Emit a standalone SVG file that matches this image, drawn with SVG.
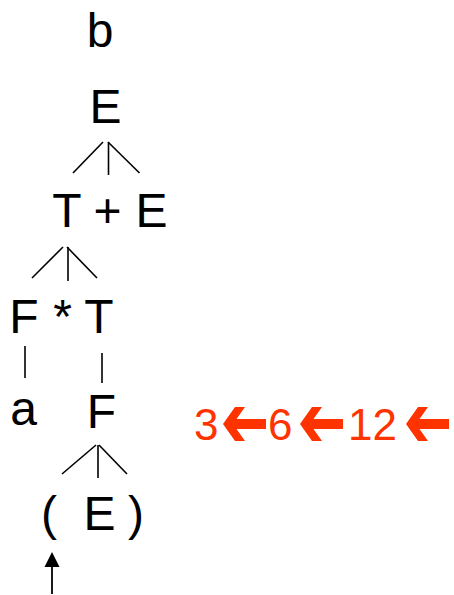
<svg xmlns="http://www.w3.org/2000/svg" width="454" height="595" viewBox="0 0 454 595">
<style>
  text { font-family: "Liberation Sans", Arial, sans-serif; font-size: 48px; fill: #000; text-anchor: middle; }
  .red { fill: #FF3300; font-size: 44px; text-anchor: start; }
  .edge { stroke: #000; stroke-width: 1.6; fill: none; }
  .rarrow { fill: #FF3300; }
</style>
<defs>
  <polygon id="redArrow" points="0,17 12,0 22,0 13.5,12 43,12 43,22 13.5,22 22,34 12,34"/>
</defs>
<rect width="454" height="595" fill="#fff"/>

<g id="connectors">
  <line class="edge" x1="103" y1="142" x2="73" y2="173"/>
  <line class="edge" x1="108.5" y1="142" x2="108.5" y2="175"/>
  <line class="edge" x1="108" y1="142" x2="139.5" y2="173"/>

  <line class="edge" x1="63" y1="247" x2="32" y2="278"/>
  <line class="edge" x1="68" y1="247" x2="68" y2="281"/>
  <line class="edge" x1="67" y1="247" x2="97" y2="278"/>

  <line class="edge" x1="25" y1="346" x2="25" y2="378"/>
  <line class="edge" x1="102" y1="353" x2="102" y2="383"/>

  <line class="edge" x1="96" y1="445" x2="62" y2="474"/>
  <line class="edge" x1="98" y1="445" x2="98" y2="478"/>
  <line class="edge" x1="99" y1="445" x2="127" y2="474"/>

  <line x1="52" y1="594" x2="52" y2="567" stroke="#000" stroke-width="1.8"/>
  <polygon points="52,552 59.5,567 44.5,567" fill="#000"/>
</g>

<g id="node-b"><text x="100" y="47">b</text></g>
<g id="node-E1"><text x="105.5" y="122.5">E</text></g>
<g id="node-T1"><text x="67" y="227">T</text></g>
<g id="node-plus"><text x="107.5" y="227">+</text></g>
<g id="node-E2"><text x="151.5" y="227">E</text></g>
<g id="node-F1"><text x="24" y="333">F</text></g>
<g id="node-star"><text x="62.5" y="333">*</text></g>
<g id="node-T2"><text x="99" y="333">T</text></g>
<g id="node-a"><text x="23.5" y="425">a</text></g>
<g id="node-F2"><text x="101.5" y="428">F</text></g>
<g id="node-lparen"><text x="49" y="530">(</text></g>
<g id="node-E3"><text x="99.5" y="530">E</text></g>
<g id="node-rparen"><text x="136" y="530">)</text></g>

<g id="counts">
  <text class="red" x="194" y="440">3</text>
  <use href="#redArrow" class="rarrow" x="223" y="407"/>
  <text class="red" x="268" y="440">6</text>
  <use href="#redArrow" class="rarrow" x="300" y="407"/>
  <text class="red" x="348" y="440">12</text>
  <use href="#redArrow" class="rarrow" x="406" y="407"/>
</g>
</svg>
